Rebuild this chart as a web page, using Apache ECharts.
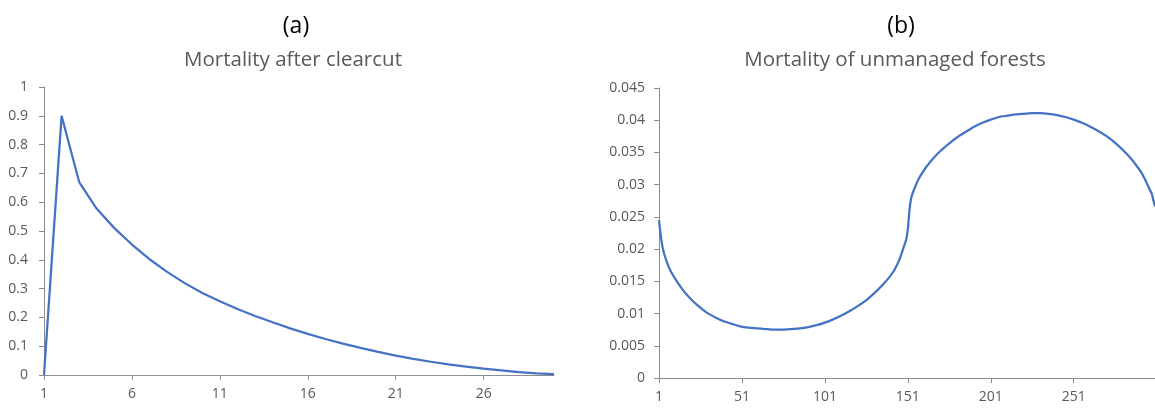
<!DOCTYPE html>
<html>
<head>
<meta charset="utf-8">
<script src="https://cdn.jsdelivr.net/npm/echarts@6/dist/echarts.min.js"></script>
<style>
html,body{margin:0;padding:0;background:#fff;}
#c{width:1155px;height:410px;}
</style>
</head>
<body>
<div id="c"></div>
<script>
// Panel (a): mortality after clearcut, years 1..30
const yearsA = [1,2,3,4,5,6,7,8,9,10,11,12,13,14,15,16,17,18,19,20,21,22,23,24,25,26,27,28,29,30];
const mortA = [0,0.900,0.670,0.577,0.510,0.453,0.402,0.358,0.319,0.285,0.256,0.229,0.205,0.183,0.162,0.143,0.125,0.109,0.094,0.080,0.067,0.056,0.046,0.037,0.029,0.022,0.016,0.010,0.006,0.003];

// Panel (b): mortality of unmanaged forests, years 1..300 (values read at sampled years)
const yearsB = [];
for (let i = 1; i <= 300; i++) yearsB.push(String(i));
const sampleYearsB = [1,2,3,4,6,8,11,15,20,25,30,35,40,45,50,55,60,65,70,76,81,86,91,96,101,106,111,116,121,126,131,136,140,143,146,148,150,151,152,153,155,158,162,166,171,176,181,186,191,196,201,206,211,216,221,226,231,236,241,246,251,256,261,266,271,276,281,286,289,292,294,296,298,299,300];
const mortB = [0.0245,0.0222,0.0205,0.0194,0.0178,0.0166,0.0153,0.0138,0.0123,0.0111,0.0101,0.0094,0.0088,0.0084,0.0080,0.0078,0.0077,0.0076,0.0075,0.0075,0.0076,0.0077,0.0079,0.0082,0.0086,0.0091,0.0097,0.0104,0.0112,0.0121,0.0132,0.0145,0.0157,0.0168,0.0184,0.0199,0.0215,0.0231,0.0260,0.0279,0.0294,0.0311,0.0327,0.0340,0.0353,0.0364,0.0374,0.0382,0.0390,0.0396,0.0401,0.0405,0.0407,0.0409,0.0410,0.0411,0.0411,0.0410,0.0408,0.0405,0.0401,0.0396,0.0390,0.0383,0.0375,0.0365,0.0353,0.0339,0.0329,0.0318,0.0308,0.0297,0.0286,0.0276,0.0266];

const panelLabels = ['(a)','(b)'];
const panelTitles = ['Mortality after clearcut','Mortality of unmanaged forests'];

const FONT = '"Open Sans", "Liberation Sans", sans-serif';
const LABEL = '#595959';
const AXIS = '#8c8c8c';
const LINE = '#4472C4';

const chart = echarts.init(document.getElementById('c'), null, {renderer:'canvas'});

function xAxisCfg(gridIndex, data, interval, margin){
  return {
    type:'category', gridIndex, data, boundaryGap:false,
    axisLine:{lineStyle:{color:AXIS,width:1}},
    axisTick:{show:true, interval, length:5, lineStyle:{color:AXIS}},
    axisLabel:{interval, color:LABEL, fontFamily:FONT, fontSize:14, margin},
    splitLine:{show:false}
  };
}
function yAxisCfg(gridIndex, max, interval, margin){
  return {
    type:'value', gridIndex, min:0, max, interval,
    axisLine:{show:true, lineStyle:{color:AXIS,width:1}},
    axisTick:{show:true, length:5, lineStyle:{color:AXIS}},
    axisLabel:{color:LABEL, fontFamily:FONT, fontSize:14, margin},
    splitLine:{show:false}
  };
}

chart.setOption({
  backgroundColor:'#ffffff',
  animation:false,
  title:[
    {text:panelLabels[0], left:291, top:10, textAlign:'center', textStyle:{color:'#000', fontFamily:FONT, fontSize:23, fontWeight:'normal'}},
    {text:panelTitles[0], left:288, top:45, textAlign:'center', textStyle:{color:LABEL, fontFamily:FONT, fontSize:20.5, fontWeight:'normal'}},
    {text:panelLabels[1], left:896, top:10, textAlign:'center', textStyle:{color:'#000', fontFamily:FONT, fontSize:23, fontWeight:'normal'}},
    {text:panelTitles[1], left:890, top:45, textAlign:'center', textStyle:{color:LABEL, fontFamily:FONT, fontSize:20.5, fontWeight:'normal'}}
  ],
  grid:[
    {left:44, top:87, width:510, height:288},
    {left:659, top:88, width:497, height:290}
  ],
  xAxis:[
    xAxisCfg(0, yearsA.map(String), 4, 12),
    xAxisCfg(1, yearsB, 49, 12)
  ],
  yAxis:[
    yAxisCfg(0, 1, 0.1, 16),
    yAxisCfg(1, 0.045, 0.005, 14)
  ],
  series:[
    {type:'line', xAxisIndex:0, yAxisIndex:0, data:mortA, showSymbol:false, symbol:'none',
     lineStyle:{color:LINE,width:2.25}, itemStyle:{color:LINE}},
    {type:'line', xAxisIndex:1, yAxisIndex:1, data:sampleYearsB.map((y,i)=>[String(y), mortB[i]]),
     showSymbol:false, symbol:'none', smooth:0.2, clip:false,
     lineStyle:{color:LINE,width:2.25}, itemStyle:{color:LINE}}
  ]
});
</script>
</body>
</html>
